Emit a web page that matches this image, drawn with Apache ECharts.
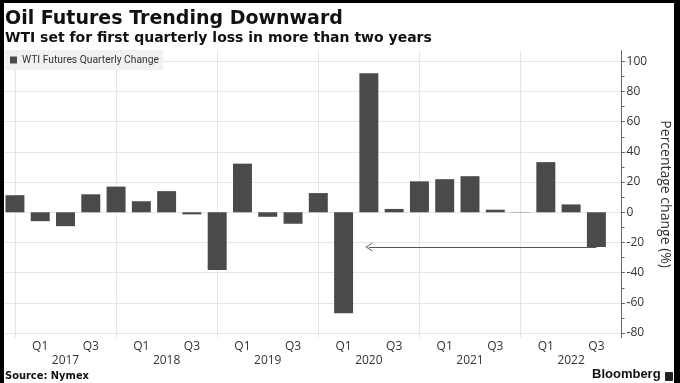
<!DOCTYPE html>
<html>
<head>
<meta charset="utf-8">
<script src="https://cdn.jsdelivr.net/npm/echarts@6/dist/echarts.min.js"></script>
<style>
html,body{margin:0;padding:0;background:#fff;}
#wrap{position:relative;width:680px;height:383px;overflow:hidden;background:#fff;}
#chart{position:absolute;left:0;top:0;width:680px;height:383px;}
.b{position:absolute;background:#000;}
</style>
</head>
<body>
<div id="wrap">
  <div id="chart"></div>
  <div class="b" style="left:0;top:0;width:4px;height:383px"></div>
  <div class="b" style="left:0;top:0;width:680px;height:3px"></div>
  <div class="b" style="left:674px;top:0;width:6px;height:383px"></div>
</div>
<script>
const categories = [
  'Q4 2016',
  'Q1 2017','Q2 2017','Q3 2017','Q4 2017',
  'Q1 2018','Q2 2018','Q3 2018','Q4 2018',
  'Q1 2019','Q2 2019','Q3 2019','Q4 2019',
  'Q1 2020','Q2 2020','Q3 2020','Q4 2020',
  'Q1 2021','Q2 2021','Q3 2021','Q4 2021',
  'Q1 2022','Q2 2022','Q3 2022','Q4 2022'
];
const quarterlyChange = [
  11.3,
  -5.9, -9.2, 11.9, 17.0,
  7.3, 14.0, -1.4, -38.3,
  32.2, -3.0, -7.6, 12.7,
  -66.8, 92.0, 2.2, 20.5,
  21.9, 23.9, 1.7, 0.2,
  33.2, 5.2, -23.0, null
];
const majorTicks = [-80, -60, -40, -20, 0, 20, 40, 60, 80, 100];
const minorTicks = [-80, -70, -60, -50, -40, -30, -20, -10, 0, 10, 20, 30, 40, 50, 60, 70, 80, 90, 100];
const arrowFrom = ['Q3 2022', -23];
const arrowTo = ['Q2 2020', -23];

const chart = echarts.init(document.getElementById('chart'), null, {renderer: 'canvas'});
const labelFont = '"Open Sans", "Noto Sans", sans-serif';
const yMin = -83, yMax = 107, yOffset = -12.8;

chart.setOption({
  animation: false,
  backgroundColor: '#fff',
  title: [
    {text: 'Oil Futures Trending Downward', left: 5, top: 8.5, padding: 0,
     textStyle: {fontFamily: '"DejaVu Sans", sans-serif', fontWeight: 'bold', fontSize: 19, lineHeight: 22, color: '#111'}},
    {text: 'WTI set for first quarterly loss in more than two years', left: 5, top: 30.5, padding: 0,
     textStyle: {fontFamily: '"DejaVu Sans", sans-serif', fontWeight: 'bold', fontSize: 14, lineHeight: 16, color: '#111'}},
    {text: 'Source: Nymex', left: 5, top: 369, padding: 0,
     textStyle: {fontFamily: '"DejaVu Sans Condensed", "DejaVu Sans", sans-serif', fontWeight: 'bold', fontSize: 11, lineHeight: 14, color: '#111'}},
    {text: 'Bloomberg', left: 592, top: 366, padding: 0,
     textStyle: {fontFamily: '"Liberation Sans", Arial, sans-serif', fontWeight: 'bold', fontSize: 13, lineHeight: 16, color: '#111'}}
  ],
  graphic: [
    {type: 'rect', shape: {x: 665, y: 372, width: 8, height: 9, r: 1}, style: {fill: '#222'}}
  ],
  legend: {
    left: 5, top: 50,
    padding: [5, 4, 5, 5],
    backgroundColor: '#f1f1f1',
    icon: 'rect', itemWidth: 7, itemHeight: 7,
    textStyle: {fontFamily: 'Roboto, "Open Sans", sans-serif', fontSize: 10.3, color: '#333'},
    data: ['WTI Futures Quarterly Change']
  },
  grid: {left: 2.3, right: 42.7, top: 50.7, bottom: 45.4, containLabel: false},
  xAxis: {
    type: 'category',
    data: categories,
    boundaryGap: true,
    axisLine: {show: false},
    axisTick: {show: false},
    axisLabel: {
      interval: 0, margin: 2, fontFamily: labelFont, fontSize: 12, lineHeight: 14, color: '#333',
      formatter: function (v) {
        const parts = v.split(' ');
        if (parts[0] === 'Q1' || parts[0] === 'Q3') return parts[0];
        if (parts[0] === 'Q2') return '\n' + parts[1];
        return '';
      }
    },
    splitLine: {
      show: true, alignWithLabel: true,
      interval: function (idx, v) { return String(v).indexOf('Q4') === 0; },
      lineStyle: {color: '#e6e6e6', width: 1}
    }
  },
  yAxis: [
    {
      type: 'value', position: 'right', min: yMin, max: yMax, offset: yOffset,
      axisLine: {show: true, lineStyle: {color: '#666', width: 1}},
      axisTick: {show: true, customValues: majorTicks, length: 3, lineStyle: {color: '#666'}},
      axisLabel: {customValues: majorTicks, margin: 5, fontFamily: labelFont, fontSize: 12, color: '#333'},
      splitLine: {show: true, lineStyle: {color: '#e6e6e6', width: 1}},
      name: 'Percentage change (%)', nameLocation: 'middle', nameRotate: -90, nameGap: 33,
      nameTextStyle: {fontFamily: labelFont, fontSize: 14, color: '#333'}
    },
    {
      type: 'value', position: 'right', min: yMin, max: yMax, offset: yOffset,
      axisLine: {show: false},
      axisTick: {show: true, customValues: minorTicks, length: 3, lineStyle: {color: '#666'}},
      axisLabel: {show: false},
      splitLine: {show: false}
    }
  ],
  series: [{
    name: 'WTI Futures Quarterly Change',
    type: 'bar',
    yAxisIndex: 0,
    data: quarterlyChange,
    barCategoryGap: '25%',
    itemStyle: {color: '#4a4a4a'},
    markLine: {
      silent: true,
      symbol: ['none', 'path://M0,10 L5,0 L10,10 L9,10 L5,2 L1,10 Z'],
      symbolSize: [9, 7],
      label: {show: false},
      lineStyle: {color: '#555', width: 1, type: 'solid'},
      data: [[{coord: arrowFrom}, {coord: arrowTo}]]
    }
  }]
});
</script>
</body>
</html>
